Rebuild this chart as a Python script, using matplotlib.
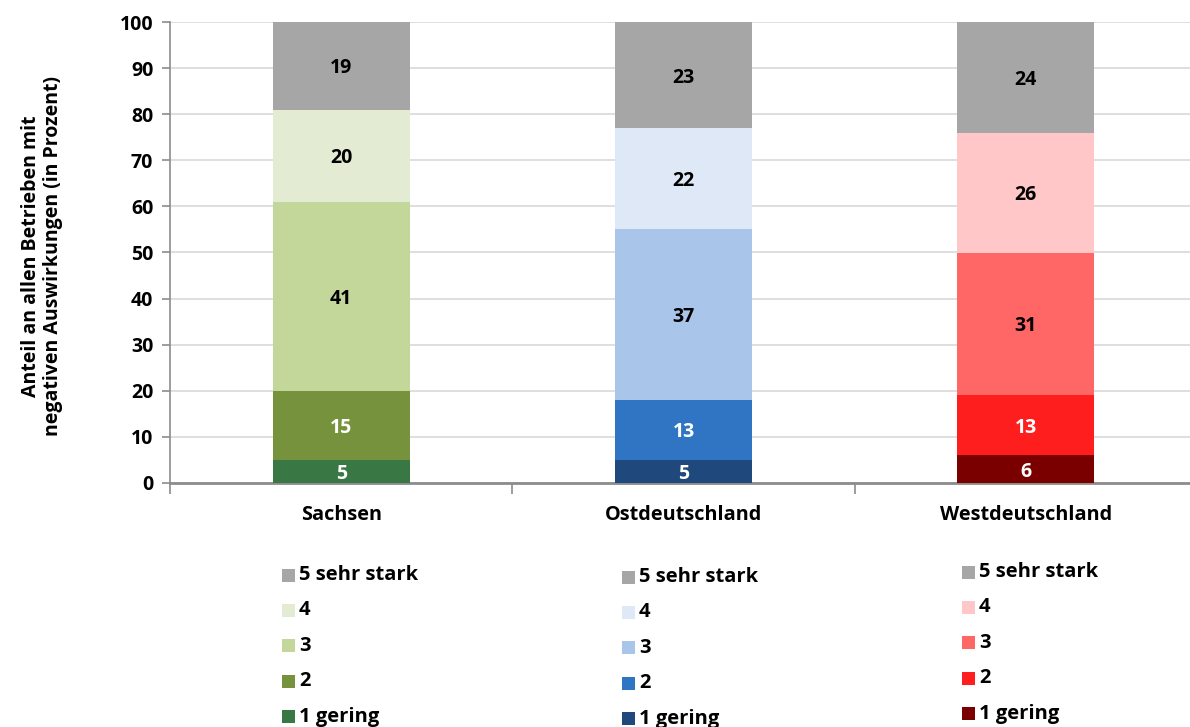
import matplotlib
matplotlib.use("Agg")
import matplotlib.pyplot as plt
from matplotlib.patches import Rectangle

plt.rcParams['font.family'] = ['Open Sans', 'DejaVu Sans']

regions = ["Sachsen", "Ostdeutschland", "Westdeutschland"]
levels = ["1 gering", "2", "3", "4", "5 sehr stark"]

# share of firms per impact level (bottom to top), per region
sachsen = [5, 15, 41, 20, 19]
ost = [5, 13, 37, 22, 23]
west = [6, 13, 31, 26, 24]
values = [sachsen, ost, west]

colors = [
    ["#397845", "#77923C", "#C4D79B", "#E3ECD2", "#A6A6A6"],
    ["#1F497D", "#3074C4", "#A9C5E9", "#DEE8F6", "#A6A6A6"],
    ["#7A0000", "#FF1E1E", "#FF6666", "#FFC7C7", "#A6A6A6"],
]
text_colors = ["white", "white", "black", "black", "black"]

W, H = 1190, 727
fig = plt.figure(figsize=(W / 100, H / 100), dpi=100)
ax = fig.add_axes([170 / W, (H - 483) / H, 1027 / W, 461 / H])

bar_w = 0.4
for i, (vals, cols) in enumerate(zip(values, colors)):
    bottom = 0
    for v, c, tc in zip(vals, cols, text_colors):
        ax.bar(i, v, width=bar_w, bottom=bottom, color=c, zorder=3, linewidth=0)
        ax.text(i, bottom + v / 2, str(v), ha="center", va="center_baseline",
                color=tc, fontsize=14, fontweight="bold", zorder=4)
        bottom += v

ax.set_xlim(-0.5, 2.5)
ax.set_ylim(0, 100)
ax.set_yticks(range(0, 101, 10))
ax.set_yticklabels([str(t) for t in range(0, 101, 10)], fontsize=14, fontweight="bold")
ax.set_xticks(range(3))
ax.set_xticklabels(regions, fontsize=14.3, fontweight="bold")
ax.set_xticks([-0.5, 0.5, 1.5, 2.5], minor=True)
ax.tick_params(axis="x", which="major", length=0, pad=16)
ax.tick_params(axis="x", which="minor", length=8, width=1.2, color="#8C8C8C", direction="out")
ax.tick_params(axis="y", length=6, width=1.2, color="#8C8C8C", direction="out", pad=6)

ax.grid(axis="y", color="#D9D9D9", linewidth=1.2, zorder=0)
for s in ["top", "right"]:
    ax.spines[s].set_visible(False)
ax.spines["left"].set_color("#8C8C8C")
ax.spines["left"].set_linewidth(1.2)
ax.spines["bottom"].set_color("#8C8C8C")
ax.spines["bottom"].set_linewidth(2)

fig.text(42 / W, 1 - 256 / H,
         "Anteil an allen Betrieben mit\nnegativen Auswirkungen (in Prozent)",
         rotation=90, ha="center", va="center", fontsize=14, fontweight="bold",
         linespacing=1.15)

# one legend column per region: swatch x, first-row centre y (pixels from top)
legend_pos = [(282, 575), (622, 577), (962, 572)]
row_step = 35.4
sw = 13
for cols, (lx, ly) in zip(colors, legend_pos):
    for k, (c, lab) in enumerate(zip(cols[::-1], levels[::-1])):
        yc = ly + k * row_step
        fig.patches.append(Rectangle((lx / W, 1 - (yc + sw / 2) / H), sw / W, sw / H,
                                     transform=fig.transFigure, facecolor=c,
                                     edgecolor="none"))
        fig.text((lx + sw + 4) / W, 1 - yc / H, lab, ha="left", va="center",
                 fontsize=14.5, fontweight="bold")

fig.savefig("out.png", dpi=100)
